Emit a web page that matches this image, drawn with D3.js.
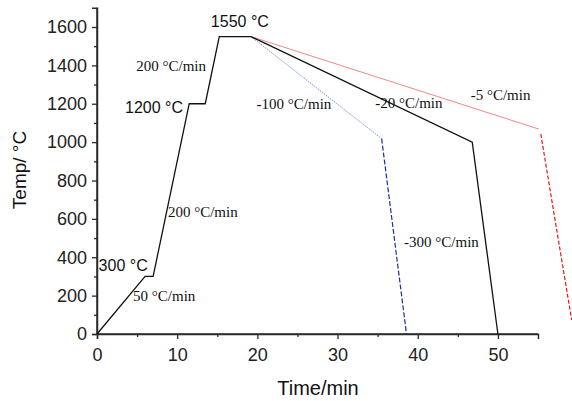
<!DOCTYPE html>
<html>
<head>
<meta charset="utf-8">
<script src="https://cdn.jsdelivr.net/npm/d3@7"></script>
<style>
  body { margin: 0; background: #fff; }
  svg { display: block; }
</style>
</head>
<body>
<div id="chart"></div>
<script>
// heating + -20 C/min cooling path (black)
const mainTime = [0, 6, 7, 11.5, 13.5, 15.25, 19.2, 46.8, 50];
const mainTemp = [0, 300, 300, 1200, 1200, 1550, 1550, 1000, 0];

// -100 C/min branch (blue)
const blueSlowTime = [19.2, 35.5];
const blueSlowTemp = [1550, 1018];
const blueFastTime = [35.5, 38.6];
const blueFastTemp = [1018, 0];

// -5 C/min branch (red)
const redSlowTime = [19.2, 55.1];
const redSlowTemp = [1550, 1068];
const redFastTime = [55.35, 59.2];
const redFastTemp = [1042, 73];

const xTicks = [0, 10, 20, 30, 40, 50];
const yTicks = [0, 200, 400, 600, 800, 1000, 1200, 1400, 1600];

// annotations: text, time, temp anchor (baseline)
const tempLabels = [
    {text: '1550 °C', t: 14.2, v: 1600},
    {text: '1200 °C', t: 3.5, v: 1152},
    {text: '300 °C', t: 0.2, v: 328}
];
const rateLabels = [
    {text: '200 °C/min', t: 4.9, v: 1370},
    {text: '200 °C/min', t: 8.85, v: 610},
    {text: '50 °C/min', t: 4.5, v: 172},
    {text: '-100 °C/min', t: 19.9, v: 1172},
    {text: '-20 °C/min', t: 34.7, v: 1178},
    {text: '-5 °C/min', t: 46.6, v: 1220},
    {text: '-300 °C/min', t: 38.3, v: 453}
];

const width = 572, height = 401;
const svg = d3.select('#chart').append('svg')
    .attr('width', width)
    .attr('height', height);

const x = d3.scaleLinear().domain([0, 55]).range([97, 538]);
const y = d3.scaleLinear().domain([0, 1700]).range([334, 7.8]);

const axisColor = '#2a2a2a';
const sans = 'Liberation Sans, Arial, sans-serif';

//x axis with minor ticks
const gx = svg.append('g').attr('transform', `translate(0,${y(0)})`);
gx.call(d3.axisBottom(x).tickValues(d3.range(5, 55, 10)).tickSize(3).tickFormat(''));
gx.call(g => g.append('g').call(d3.axisBottom(x).tickValues(xTicks).tickSize(5).tickPadding(9).tickFormat(d3.format('d'))));
gx.selectAll('.domain').attr('stroke', axisColor).attr('stroke-width', 1.5);
gx.selectAll('line').attr('stroke', axisColor).attr('stroke-width', 1.3);
gx.select('.domain').attr('d', `M${x(0)},0H${x(55)}`);
gx.selectAll('text').attr('font-family', sans).attr('font-size', 18).attr('fill', '#222');

//y axis with minor ticks
const gy = svg.append('g').attr('transform', `translate(${x(0)},0)`);
gy.call(d3.axisLeft(y).tickValues(d3.range(100, 1700, 200)).tickSize(3).tickFormat(''));
gy.call(g => g.append('g').call(d3.axisLeft(y).tickValues(yTicks).tickSize(5).tickPadding(5).tickFormat(d3.format('d'))));
gy.selectAll('.domain').attr('stroke', axisColor).attr('stroke-width', 1.5);
gy.selectAll('line').attr('stroke', axisColor).attr('stroke-width', 1.3);
gy.select('.domain').attr('d', `M0,${y(1700)}V${y(0)}`);
gy.selectAll('text').attr('font-family', sans).attr('font-size', 18).attr('fill', '#222');

const line = d3.line().x(d => x(d[0])).y(d => y(d[1]));
const zip = (a, b) => a.map((v, i) => [v, b[i]]);

svg.append('path').datum(zip(redSlowTime, redSlowTemp)).attr('d', line)
    .attr('fill', 'none').attr('stroke', '#f08a8a').attr('stroke-width', 1);
svg.append('path').datum(zip(redFastTime, redFastTemp)).attr('d', line)
    .attr('fill', 'none').attr('stroke', '#e01818').attr('stroke-width', 1.2).attr('stroke-dasharray', '4,2');
svg.append('path').datum(zip(blueSlowTime, blueSlowTemp)).attr('d', line)
    .attr('fill', 'none').attr('stroke', '#7f93dd').attr('stroke-width', 1).attr('stroke-dasharray', '1.5,1');
svg.append('path').datum(zip(blueFastTime, blueFastTemp)).attr('d', line)
    .attr('fill', 'none').attr('stroke', '#1a2f9e').attr('stroke-width', 1.2).attr('stroke-dasharray', '5,2');
svg.append('path').datum(zip(mainTime, mainTemp)).attr('d', line)
    .attr('fill', 'none').attr('stroke', '#111').attr('stroke-width', 1.3);

svg.selectAll('.tlab').data(tempLabels).enter().append('text')
    .attr('x', d => x(d.t)).attr('y', d => y(d.v))
    .attr('font-family', sans)
    .attr('font-size', 16).attr('fill', '#111')
    .text(d => d.text);

svg.selectAll('.rlab').data(rateLabels).enter().append('text')
    .attr('x', d => x(d.t)).attr('y', d => y(d.v))
    .attr('font-family', 'Liberation Serif, Times New Roman, serif')
    .attr('font-size', 15).attr('fill', '#111')
    .text(d => d.text);

//axis titles
svg.append('text')
    .attr('transform', `translate(26,170) rotate(-90)`)
    .attr('text-anchor', 'middle')
    .attr('font-family', sans)
    .attr('font-size', 19).attr('fill', '#111')
    .text('Temp/ °C');
svg.append('text')
    .attr('x', 318).attr('y', 395)
    .attr('text-anchor', 'middle')
    .attr('font-family', sans)
    .attr('font-size', 20).attr('fill', '#111')
    .text('Time/min');
</script>
</body>
</html>
